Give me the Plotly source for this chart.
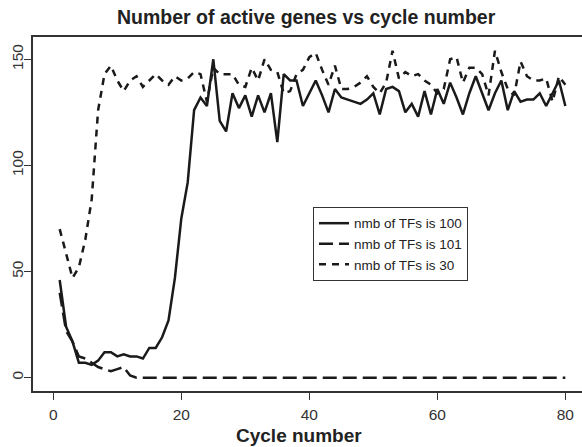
import plotly.graph_objects as go

cycles = list(range(1, 81))

tf100 = [46, 24, 17, 7, 7, 6, 8, 12, 12, 10, 11, 10, 10, 9, 14, 14, 19, 27, 47, 75,
         92, 126, 132, 128, 150, 121, 116, 134, 127, 133, 123, 133, 125, 134, 111, 143, 140, 140, 128, 134,
         140, 133, 125, 136, 132, 131, 130, 129, 131, 134, 124, 136, 137, 135, 125, 129, 123, 135, 124, 136,
         129, 139, 132, 124, 134, 142, 134, 126, 134, 140, 126, 135, 130, 131, 131, 134, 128, 134, 140, 128]

tf101 = [40, 22, 17, 10, 9, 7, 5, 4, 3, 4, 5, 1] + [0] * 68

tf30 = [70, 58, 47, 52, 65, 84, 126, 143, 147, 140, 135, 140, 142, 137, 140, 143, 140, 138, 142, 140,
        141, 144, 143, 130, 146, 143, 143, 143, 138, 137, 146, 140, 150, 145, 144, 134, 135, 143, 145, 151,
        153, 145, 138, 147, 136, 136, 137, 139, 142, 137, 134, 139, 154, 141, 144, 142, 143, 140, 138, 134,
        136, 150, 151, 139, 146, 146, 143, 133, 154, 144, 136, 133, 149, 142, 140, 140, 141, 130, 142, 138]

names = ["nmb of TFs is 100", "nmb of TFs is 101", "nmb of TFs is 30"]
x_ticks = [0, 20, 40, 60, 80]
y_ticks = [0, 50, 100, 150]

ink = "#1a1a1a"
fig = go.Figure()
fig.add_trace(go.Scatter(x=cycles, y=tf100, mode="lines", name=names[0],
                         line=dict(color=ink, width=2.5, dash="solid")))
fig.add_trace(go.Scatter(x=cycles, y=tf101, mode="lines", name=names[1],
                         line=dict(color=ink, width=2.5, dash="14px,6px")))
fig.add_trace(go.Scatter(x=cycles, y=tf30, mode="lines", name=names[2],
                         line=dict(color=ink, width=2.5, dash="7px,6px")))

font_family = "Liberation Sans, Arial, sans-serif"
fig.update_layout(
    width=582, height=447,
    margin=dict(l=33, r=0, t=37, b=56),
    plot_bgcolor="white", paper_bgcolor="white",
    font=dict(family=font_family, color="#222"),
    title=dict(text="<b>Number of active genes vs cycle number</b>", x=0.526, xanchor="center",
               y=0.962, yanchor="middle", font=dict(size=19.5, color="#222")),
    showlegend=True,
    legend=dict(x=0.51, y=0.52, xanchor="left", yanchor="top",
                bgcolor="white", bordercolor="#333", borderwidth=1,
                font=dict(size=13.5, color="#222"), tracegroupgap=0,
                itemwidth=30),
    xaxis=dict(range=[-3.17, 82.6], tickvals=x_ticks, ticks="outside", ticklen=7,
               tickcolor="#333", tickwidth=1.2, showgrid=False, zeroline=False,
               showline=True, linecolor="#333", linewidth=1.5, mirror=True,
               tickfont=dict(size=15.5, color="#333"), ticklabelstandoff=2),
    yaxis=dict(range=[-6.3, 160.5], tickvals=y_ticks, ticks="outside", ticklen=7,
               tickcolor="#333", tickwidth=1.2, showgrid=False, zeroline=False,
               showline=True, linecolor="#333", linewidth=1.5, mirror=False,
               tickangle=-90, tickfont=dict(size=15.5, color="#333"), ticklabelstandoff=-5),
    annotations=[dict(text="<b>Cycle number</b>", xref="paper", yref="paper",
                      x=0.485, y=-0.127, xanchor="center", yanchor="middle", showarrow=False,
                      font=dict(size=19, color="#222"))],
)

fig.write_html("out.html")
